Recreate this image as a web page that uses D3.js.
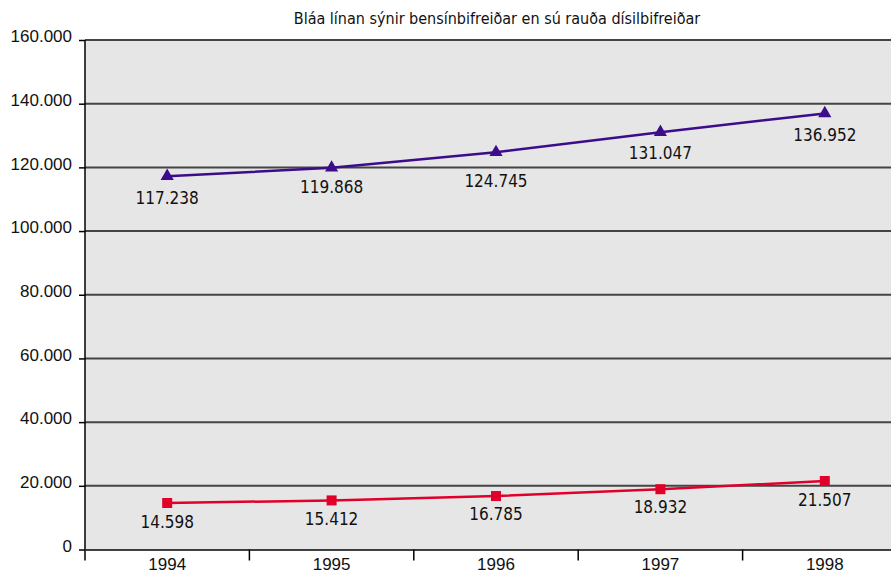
<!DOCTYPE html>
<html lang="en">
<head>
  <meta charset="UTF-8">
  <title>Bensín- og dísilbifreiðar</title>
  <style>
  body { margin: 0; background: white; }
  svg { display: block; font-family: "Liberation Sans Narrow", "DejaVu Sans Condensed", sans-serif; }
  .grid line { stroke: #444; stroke-width: 2; }
  .axis text { font-size: 17px; fill: #111; }
  </style>
</head>
<body>
  <script src="https://d3js.org/d3.v7.min.js"></script>
  <script>
  var years = ['1994', '1995', '1996', '1997', '1998'];
  var bensin = [117238, 119868, 124745, 131047, 136952];
  var disil = [14598, 15412, 16785, 18932, 21507];
  var yTicks = [0, 20000, 40000, 60000, 80000, 100000, 120000, 140000, 160000];
  var title = 'Bláa línan sýnir bensínbifreiðar en sú rauða dísilbifreiðar';

  // how far below its point each value label sits (px), as in the original
  var bensinDy = [28, 25, 35, 27, 28];
  var disilDy = [25, 25, 24, 24, 25];

  var width = 891, height = 574;
  var plotLeft = 85, plotTop = 40, plotBottom = 549.5, plotRight = 907;

  var fmt = function (v) {
    return v === 0 ? '0' : d3.format(',')(v).replace(/,/g, '.');
  };

  var svg = d3.select('body').append('svg')
              .attr('width', width)
              .attr('height', height);

  var x = d3.scaleBand().domain(years).range([plotLeft, plotRight]);
  var y = d3.scaleLinear().domain([0, 160000]).range([plotBottom, plotTop]);

  svg.append('rect')
     .attr('x', plotLeft).attr('y', plotTop)
     .attr('width', plotRight - plotLeft).attr('height', plotBottom - plotTop)
     .attr('fill', '#e6e6e6');

  svg.append('g').attr('class', 'grid')
     .selectAll('line')
     .data(yTicks.filter(function (d) { return d > 0; }))
     .enter().append('line')
     .attr('x1', plotLeft).attr('x2', plotRight)
     .attr('y1', function (d) { return y(d); })
     .attr('y2', function (d) { return y(d); });

  var yAxis = svg.append('g').attr('class', 'axis')
                 .attr('transform', 'translate(' + plotLeft + ',0)')
                 .call(d3.axisLeft(y).tickValues(yTicks).tickFormat(fmt).tickSize(6).tickPadding(7));
  yAxis.selectAll('line, path').attr('stroke', '#000').attr('stroke-width', 1.5);
  yAxis.select('.domain').attr('d', 'M0,' + plotTop + 'V' + plotBottom);
  yAxis.selectAll('.tick text').attr('dy', '0.1em');

  var xAxis = svg.append('g').attr('class', 'axis')
                 .attr('transform', 'translate(0,' + plotBottom + ')')
                 .call(d3.axisBottom(x).tickSize(0).tickPadding(6));
  xAxis.select('.domain').attr('stroke', '#000').attr('stroke-width', 1.5);
  xAxis.selectAll('.tick text').attr('dy', '0.85em');

  var bounds = years.map(function (d) { return x(d); });
  svg.append('g').selectAll('line')
     .data(bounds)
     .enter().append('line')
     .attr('x1', function (d) { return d; }).attr('x2', function (d) { return d; })
     .attr('y1', plotBottom).attr('y2', plotBottom + 11)
     .attr('stroke', '#000').attr('stroke-width', 1.5);

  var cx = function (d, i) { return x(years[i]) + x.bandwidth() / 2; };
  var line = d3.line().x(cx).y(function (d) { return y(d); });

  function series(data, dy, color, symbol, size) {
    var g = svg.append('g');
    g.append('path').datum(data)
     .attr('d', line)
     .attr('fill', 'none')
     .attr('stroke', color)
     .attr('stroke-width', 2.5);
    g.selectAll('path.pt').data(data).enter().append('path')
     .attr('class', 'pt')
     .attr('d', d3.symbol().type(symbol).size(size))
     .attr('transform', function (d, i) { return 'translate(' + cx(d, i) + ',' + y(d) + ')'; })
     .attr('fill', color);
    g.selectAll('text').data(data).enter().append('text')
     .attr('x', cx)
     .attr('y', function (d, i) { return y(d) + dy[i]; })
     .attr('text-anchor', 'middle')
     .attr('font-size', 17)
     .attr('fill', '#111')
     .text(fmt);
  }

  series(bensin, bensinDy, '#3d0c8a', d3.symbolTriangle, 75);
  series(disil, disilDy, '#e0002a', d3.symbolSquare, 100);

  svg.append('text')
     .attr('x', 497).attr('y', 24)
     .attr('text-anchor', 'middle')
     .attr('font-size', 16)
     .attr('fill', '#111')
     .text(title);
  </script>
</body>
</html>
